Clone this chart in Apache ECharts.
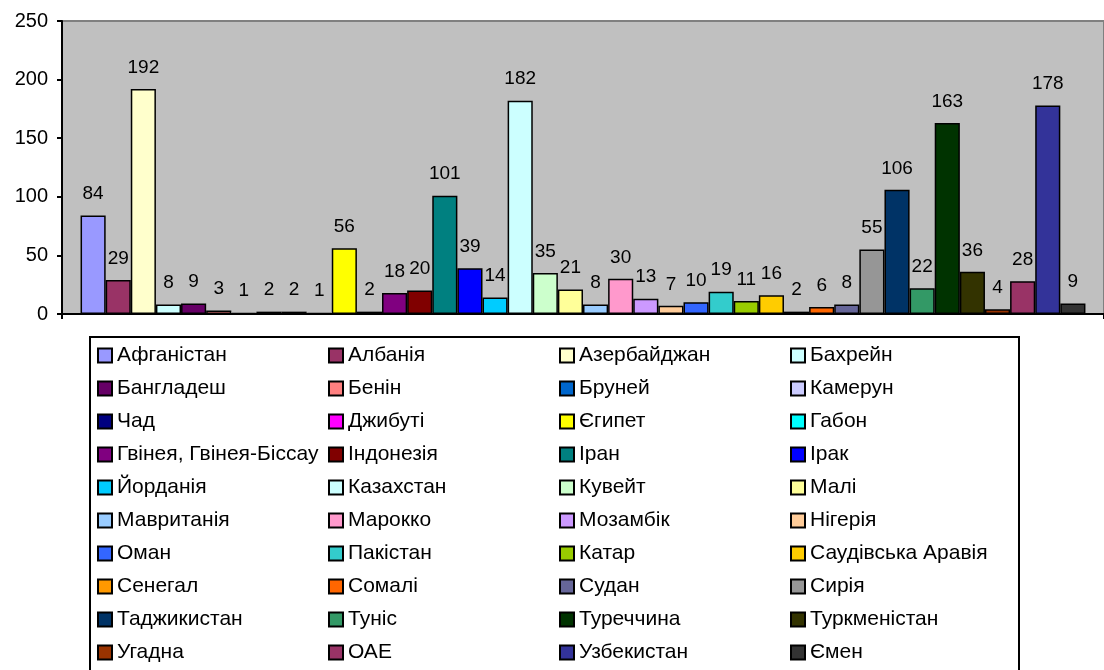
<!DOCTYPE html>
<html>
<head>
<meta charset="utf-8">
<script src="https://cdn.jsdelivr.net/npm/echarts@6/dist/echarts.min.js"></script>
<style>
  html, body { margin: 0; padding: 0; background: #fff; }
  #chart { width: 1104px; height: 670px; }
</style>
</head>
<body>
<div id="chart"></div>
<script>
// countries, in legend / bar order
const countries = [
  'Афганістан', 'Албанія', 'Азербайджан', 'Бахрейн',
  'Бангладеш', 'Бенін', 'Бруней', 'Камерун',
  'Чад', 'Джибуті', 'Єгипет', 'Габон',
  'Гвінея, Гвінея-Біссау', 'Індонезія', 'Іран', 'Ірак',
  'Йорданія', 'Казахстан', 'Кувейт', 'Малі',
  'Мавританія', 'Марокко', 'Мозамбік', 'Нігерія',
  'Оман', 'Пакістан', 'Катар', 'Саудівська Аравія',
  'Сенегал', 'Сомалі', 'Судан', 'Сирія',
  'Таджикистан', 'Туніс', 'Туреччина', 'Туркменістан',
  'Угадна', 'ОАЕ', 'Узбекистан', 'Ємен'
];

const values = [
  84, 29, 192, 8,
  9, 3, 1, 2,
  2, 1, 56, 2,
  18, 20, 101, 39,
  14, 182, 35, 21,
  8, 30, 13, 7,
  10, 19, 11, 16,
  2, 6, 8, 55,
  106, 22, 163, 36,
  4, 28, 178, 9
];

// Excel 97-2003 default palette colours
const colors = [
  '#9999FF', '#993366', '#FFFFCC', '#CCFFFF',
  '#660066', '#FF8080', '#0066CC', '#CCCCFF',
  '#000080', '#FF00FF', '#FFFF00', '#00FFFF',
  '#800080', '#800000', '#008080', '#0000FF',
  '#00CCFF', '#CCFFFF', '#CCFFCC', '#FFFF99',
  '#99CCFF', '#FF99CC', '#CC99FF', '#FFCC99',
  '#3366FF', '#33CCCC', '#99CC00', '#FFCC00',
  '#FF9900', '#FF6600', '#666699', '#969696',
  '#003366', '#339966', '#003300', '#333300',
  '#993300', '#993366', '#333399', '#333333'
];

const yTicks = { min: 0, max: 250, interval: 50 };

const font = '"Liberation Sans", Arial, sans-serif';

const chart = echarts.init(document.getElementById('chart'));

const series = countries.map((name, i) => ({
  name: name,
  type: 'bar',
  data: [values[i]],
  barGap: '0%',
  barCategoryGap: '3.56%',
  itemStyle: {
    color: colors[i],
    borderColor: '#000',
    borderWidth: 1.5
  },
  label: {
    show: true,
    position: 'top',
    distance: 12,
    fontSize: 19,
    fontFamily: font,
    color: '#000'
  },
  emphasis: { disabled: true }
}));

chart.setOption({
  animation: false,
  textStyle: { fontFamily: font },
  grid: {
    left: 62,
    right: -10,
    top: 21,
    bottom: 356,
    show: true,
    backgroundColor: '#C0C0C0',
    borderColor: '#808080',
    borderWidth: 2
  },
  xAxis: {
    type: 'category',
    data: [''],
    boundaryGap: true,
    axisLine: { lineStyle: { color: '#000', width: 2 } },
    axisTick: { show: true, length: 5, lineStyle: { color: '#000', width: 2 } },
    axisLabel: { show: false }
  },
  yAxis: {
    type: 'value',
    min: yTicks.min,
    max: yTicks.max,
    interval: yTicks.interval,
    axisLine: { show: true, lineStyle: { color: '#000', width: 2 } },
    axisTick: { show: true, length: 5, lineStyle: { color: '#000', width: 2 } },
    axisLabel: { fontSize: 20, color: '#000', margin: 14, fontFamily: font },
    splitLine: { show: false }
  },
  legend: {
    data: countries,
    left: 90,
    top: 337,
    width: 960,
    orient: 'horizontal',
    padding: [6, 6, 12, 7],
    itemGap: 8,
    itemWidth: 14,
    itemHeight: 14,
    selectedMode: false,
    borderColor: '#000',
    borderWidth: 2,
    icon: 'rect',
    textStyle: {
      fontSize: 21,
      fontFamily: font,
      color: '#000',
      width: 203,
      lineHeight: 25,
      overflow: 'none'
    }
  },
  series: series
});
</script>
</body>
</html>
